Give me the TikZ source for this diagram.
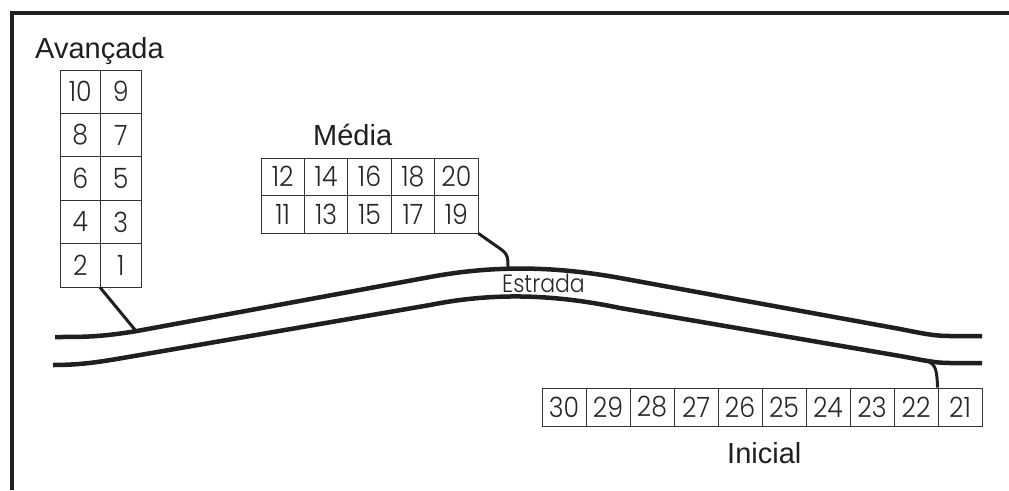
\documentclass[tikz,border=0pt]{standalone}
\usepackage{fontspec}
\setmainfont{Liberation Sans}
\newfontfamily\numfont{Poppins Light}
\newcommand\cellnum[1]{\scalebox{0.9}[1]{#1}}
\begin{document}
\begin{tikzpicture}[x=1pt,y=-1pt,
  cell/.style={draw=black!80, line width=0.9pt, inner sep=0pt, text=black!85, font=\numfont\fontsize{28}{28}\selectfont},
  acell/.style={cell, minimum width=40.5pt, minimum height=43.4pt},
  mcell/.style={cell, minimum width=43.4pt, minimum height=37.5pt},
  icell/.style={cell, minimum width=44pt, minimum height=38pt},
  road/.style={line width=4.5pt, draw=black!88},
  link/.style={line width=3pt, draw=black!88},
  lbl/.style={font=\fontsize{29}{29}\selectfont, inner sep=0pt, anchor=base west, text=black!88},
  frame/.style={line width=4pt, draw=black!87}]
\useasboundingbox (0,0) rectangle (1009,490);
% frame
\draw[frame] (12,490) -- (12,13) -- (1009,13);
% labels
\node[lbl] (avan) at (35,58) {Avançada};
\node[lbl] (media) at (313,145) {Média};
\node[lbl] (inic) at (727,463) {Inicial};
\node[font=\numfont\fontsize{25}{25}\selectfont, anchor=base west, inner sep=0pt, text=black!85] (estr) at (502,292) {\scalebox{0.88}[1]{Estrada}};
% Avancada cells
\foreach \row/\lft/\rgt in {0/10/9,1/8/7,2/6/5,3/4/3,4/2/1} {
  \node[acell] (a\lft) at (80.25, {70+43.4*(\row+0.5)}) {\cellnum{\lft}};
  \node[acell] (a\rgt) at (120.75, {70+43.4*(\row+0.5)}) {\cellnum{\rgt}};
}
% Media cells
\foreach \k in {0,...,4} {
  \pgfmathtruncatemacro\tp{12+2*\k}
  \pgfmathtruncatemacro\bt{11+2*\k}
  \node[mcell] (m\tp) at ({261+43.4*(\k+0.5)}, 176.75) {\cellnum{\tp}};
  \node[mcell] (m\bt) at ({261+43.4*(\k+0.5)}, 214.25) {\cellnum{\bt}};
}
% Inicial cells
\foreach \k in {0,...,9} {
  \pgfmathtruncatemacro\nn{30-\k}
  \node[icell] (i\nn) at ({542+44*(\k+0.5)}, 407) {\cellnum{\nn}};
}
% road
\draw[road] (55,337) .. controls (85,337) and (100,337) .. (137,331) -- (430,277)
  .. controls (495,265) and (555,266.2) .. (620,278) -- (900,329)
  .. controls (925,334) and (935,336) .. (950,336) -- (982,336);
\draw[road] (53,365) .. controls (85,365) and (105,361) .. (140,355) -- (430,305)
  .. controls (495,292) and (555,294.5) .. (620,308) -- (900,356)
  .. controls (925,360.5) and (935,363) .. (950,363) -- (982,363);
% connectors
\coordinate (ra) at (136,331);
\coordinate (rm) at (508,268);
\coordinate (ri) at (929,362);
\draw[link] (a1.south west) -- (ra);
\draw[link] (m19.south east) -- (502,250) .. controls (508,255) and (508,258) .. (rm);
\draw[link] (ri) .. controls (936,365) and (937,372) .. (i21.north west);
\end{tikzpicture}
\end{document}
